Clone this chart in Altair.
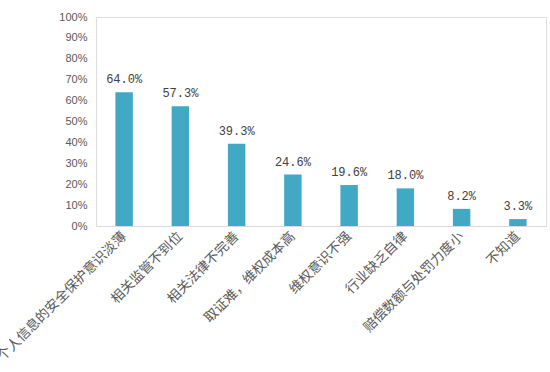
import altair as alt
import pandas as pd

categories = ["个人信息的安全保护意识淡薄", "相关监管不到位", "相关法律不完善", "取证难，维权成本高",
              "维权意识不强", "行业缺乏自律", "赔偿数额与处罚力度小", "不知道"]
values = [64.0, 57.3, 39.3, 24.6, 19.6, 18.0, 8.2, 3.3]
labels = ["64.0%", "57.3%", "39.3%", "24.6%", "19.6%", "18.0%", "8.2%", "3.3%"]
y_ticks = [0, 0.1, 0.2, 0.3, 0.4, 0.5, 0.6, 0.7, 0.8, 0.9, 1.0]

df = pd.DataFrame({"cat": categories, "val": [v / 100 for v in values], "label": labels})

x = alt.X("cat:N", sort=categories, title=None,
          scale=alt.Scale(paddingInner=0.69, paddingOuter=0.345),
          axis=alt.Axis(labelAngle=-45, labelAlign="right", labelBaseline="middle",
                        labelFontSize=13.5, labelColor="#595959", labelFont="Noto Sans CJK SC",
                        labelPadding=8, ticks=False, domainColor="#D9D9D9", labelLimit=300,
                        labelOverlap=False))
y = alt.Y("val:Q", title=None,
          scale=alt.Scale(domain=[0, 1], nice=False),
          axis=alt.Axis(format=".0%", values=y_ticks, grid=False, labelOverlap=False,
                        domain=False, ticks=False, labelFontSize=11, labelColor="#595959",
                        labelFont="Liberation Sans", labelPadding=9))

bars = alt.Chart(df).mark_bar(color="#41A9C4").encode(x=x, y=y)
text = alt.Chart(df).mark_text(baseline="bottom", dy=-6, fontSize=12, font="Liberation Mono",
                               color="#404040").encode(x=x, y=y, text="label:N")

chart = (bars + text).properties(
    width=450, height=209,
    autosize=alt.AutoSizeParams(type="none"),
    padding={"left": 96, "top": 17, "right": 4, "bottom": 146},
).configure_view(stroke=None).configure(background="white")

chart.save("out.html", embed_options={"renderer": "svg", "actions": False})
